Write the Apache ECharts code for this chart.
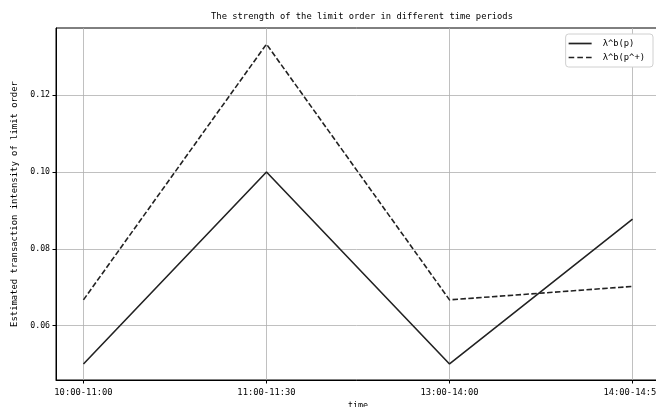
<!DOCTYPE html>
<html><head><meta charset="utf-8">
<script src="https://cdn.jsdelivr.net/npm/echarts@6/dist/echarts.min.js"></script>
<style>html,body{margin:0;padding:0;background:#fff}#c{width:656px;height:407px}</style>
</head><body><div id="c"></div>
<script>
const categories = ['10:00-11:00', '11:00-11:30', '13:00-14:00', '14:00-14:57'];
const lambdaP = [0.05, 0.10, 0.05, 0.0877];
const lambdaPPlus = [0.0667, 0.1333, 0.0667, 0.0702];
const yTicks = [0.06, 0.08, 0.10, 0.12];
const seriesNames = ['λ^b(p)', 'λ^b(p^+)'];

const xIdx = categories.map((_, i) => i);
const F = 'DejaVu Sans Mono';
const solidIcon = 'path://M0,0H23V1.7H0Z';
const dashIcon = 'path://M0,0H5.6V1.7H0Z M8.7,0H14.3V1.7H8.7Z M17.4,0H23V1.7H17.4Z';
const chart = echarts.init(document.getElementById('c'), null, {renderer: 'canvas'});
chart.setOption({
  animation: false,
  backgroundColor: '#fff',
  title: {
    text: 'The strength of the limit order in different time periods',
    left: 357, top: 7, textAlign: 'center',
    textStyle: {fontFamily: F, fontSize: 8.8, fontWeight: 'normal', color: '#000'}
  },
  legend: {
    right: 3, top: 34, orient: 'vertical',
    itemWidth: 23, itemHeight: 10, itemGap: 5,
    padding: [5, 8, 5, 3],
    borderColor: '#d0d0d0', borderWidth: 1, borderRadius: 3, backgroundColor: '#fff',
    textStyle: {fontFamily: F, fontSize: 8.8, color: '#000', padding: [0, 0, 0, 6]},
    data: [
      {name: seriesNames[0], icon: solidIcon, itemStyle: {color: '#222'}},
      {name: seriesNames[1], icon: dashIcon, itemStyle: {color: '#222'}}
    ]
  },
  grid: {left: 56, top: 28, width: 604, height: 352, outerBoundsMode: 'none', show: true, borderColor: '#000', borderWidth: 1, containLabel: false},
  xAxis: {
    type: 'value', min: -0.15, max: 3.15,
    name: 'time', nameLocation: 'middle', nameGap: 18,
    nameTextStyle: {fontFamily: F, fontSize: 8.4, color: '#000'},
    axisLine: {show: true, onZero: false, lineStyle: {color: '#000', width: 1}},
    axisTick: {show: true, length: 3.5, lineStyle: {color: '#000'}, customValues: xIdx},
    axisLabel: {customValues: xIdx, fontFamily: F, fontSize: 8.8, color: '#000', margin: 8,
      formatter: v => categories[Math.round(v)]},
    splitLine: {show: true, lineStyle: {color: '#b0b0b0', width: 0.8}}
  },
  yAxis: {
    type: 'value', min: 0.04583, max: 0.1375,
    name: 'Estimated transaction intensity of limit order', nameLocation: 'middle', nameGap: 34,
    nameTextStyle: {fontFamily: F, fontSize: 8.9, color: '#000'},
    axisLine: {show: true, onZero: false, lineStyle: {color: '#000', width: 1}},
    axisTick: {show: true, length: 3.5, lineStyle: {color: '#000'}, customValues: yTicks},
    axisLabel: {customValues: yTicks, fontFamily: F, fontSize: 8.2, color: '#000', margin: 6,
      formatter: v => v.toFixed(2)},
    splitLine: {show: true, lineStyle: {color: '#b0b0b0', width: 0.8}}
  },
  series: [
    {name: seriesNames[0], type: 'line', symbol: 'none',
     data: xIdx.map(i => [i, lambdaP[i]]),
     lineStyle: {color: '#222', width: 1.6, type: 'solid'}, itemStyle: {color: '#222'}},
    {name: seriesNames[1], type: 'line', symbol: 'none',
     data: xIdx.map(i => [i, lambdaPPlus[i]]),
     lineStyle: {color: '#222', width: 1.6, type: [5.5, 2.4]}, itemStyle: {color: '#222'}}
  ]
});
</script></body></html>
